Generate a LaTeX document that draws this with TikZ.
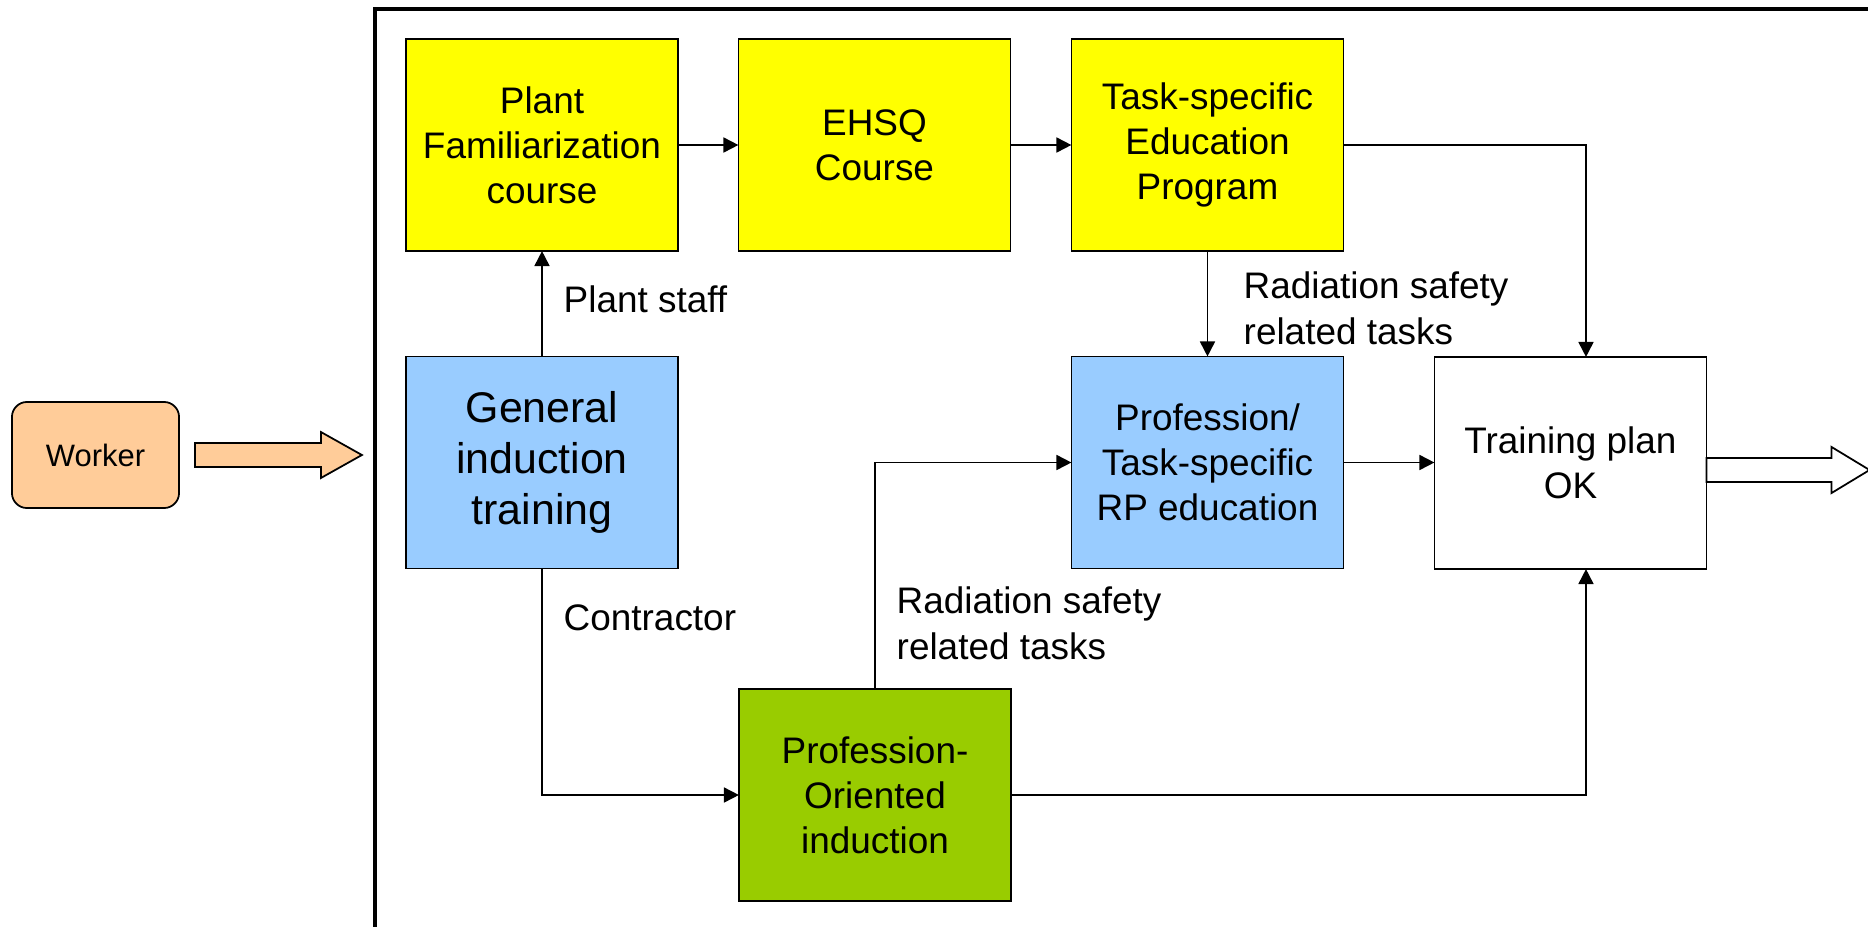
\documentclass[tikz,border=0pt]{standalone}
\usepackage{fontspec}
\setmainfont{Liberation Sans}
\usetikzlibrary{arrows.meta,calc}

\definecolor{boxyellow}{HTML}{FFFF00}
\definecolor{boxblue}{HTML}{99CCFF}
\definecolor{boxgreen}{HTML}{99CC00}
\definecolor{peach}{HTML}{FFCC99}

\begin{document}
\begin{tikzpicture}
  [
  x=0.01cm, y=-0.01cm,
  stepbox/.style={draw, line width=0.4pt, minimum width=2.72cm, minimum height=2.12cm, align=center, inner sep=2pt, outer sep=0pt, font=\fontsize{10.5}{12.8}\selectfont},
  lbl/.style={anchor=base west, align=left, inner sep=0pt, font=\fontsize{10.5}{12.8}\selectfont},
  link/.style={draw, -{Triangle[length=0.15cm,width=0.15cm]}, line width=0.5pt},
  frame/.style={draw, line width=1.1pt},
  fatarrow/.style={draw, line width=0.5pt, line join=miter}
  ]
  \useasboundingbox (0,0) rectangle (1868,927);
  \draw[frame] (375,940) -- (375,9) -- (1880,9);

  \node[stepbox, fill=boxyellow] (plant) at (542,145) {Plant\\Familiarization\\course};
  \node[stepbox, fill=boxyellow] (ehsq) at (874.5,145) {EHSQ\\Course};
  \node[stepbox, fill=boxyellow] (taskedu) at (1207.5,145) {Task-specific\\Education\\Program};
  \node[stepbox, fill=boxblue, font=\fontsize{12.2}{14.4}\selectfont] (general) at (542,462.5) {General\\induction\\training};
  \node[stepbox, fill=boxblue] (rpedu) at (1207.5,462.5) {Profession/\\Task-specific\\RP education};
  \node[stepbox] (plan) at (1570.5,463) {Training plan\\OK};
  \node[stepbox, fill=boxgreen] (profor) at (875,795) {Profession-\\Oriented\\induction};
  \node[draw, line width=0.5pt, fill=peach, rounded corners=0.15cm, minimum width=1.67cm, minimum height=1.06cm, font=\fontsize{8.8}{10.5}\selectfont] (worker) at (95.5,455) {Worker};

  \coordinate (planin) at (1586,0);
  \draw[link] (plant) -- (ehsq);
  \draw[link] (ehsq) -- (taskedu);
  \draw[link] (taskedu.east) -| (plan.north -| planin);
  \draw[link] (taskedu.south) -- (rpedu.north);
  \draw[link] (general) -- (plant);
  \draw[link] (general.south) |- (profor.west);
  \draw[link] (profor.north) |- (rpedu.west);
  \draw[link] (rpedu.east) -- (rpedu.east -| plan.west);
  \draw[link] (profor.east) -| (plan.south -| planin);

  \node[lbl] (staff) at (563,312) {Plant staff};
  \node[lbl] (contractor) at (563,630) {Contractor};
  \node[lbl] (radtop) at (1243,344) {Radiation safety\\related tasks};
  \node[lbl] (radlow) at (896,659) {Radiation safety\\related tasks};

  \draw[fatarrow, fill=peach] ($(worker.east)+(15,-12)$) -- ($(worker.east)+(141,-12)$) -- ($(worker.east)+(141,-23)$) -- ($(worker.east)+(182,0)$) -- ($(worker.east)+(141,23)$) -- ($(worker.east)+(141,12)$) -- ($(worker.east)+(15,12)$) -- cycle;
  \draw[fatarrow, fill=white] ($(plan.east)+(0,-5)$) -- ($(plan.east)+(125,-5)$) -- ($(plan.east)+(125,-16)$) -- ($(plan.east)+(163,7)$) -- ($(plan.east)+(125,30)$) -- ($(plan.east)+(125,19)$) -- ($(plan.east)+(0,19)$) -- cycle;
\end{tikzpicture}
\end{document}
